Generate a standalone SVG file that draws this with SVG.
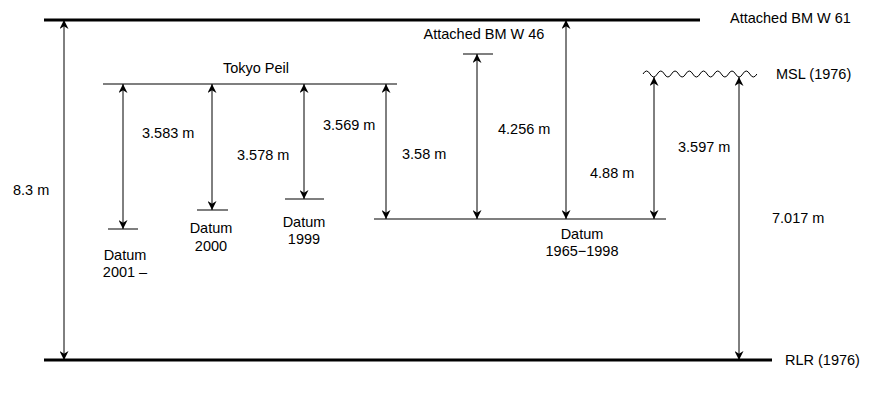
<svg xmlns="http://www.w3.org/2000/svg" width="875" height="400" viewBox="0 0 875 400">
<style>
text{font-family:"Liberation Sans",Arial,sans-serif;font-size:14.5px;fill:#000}
.m{text-anchor:middle}
.thick{stroke:#000;stroke-width:3;fill:none}
.ref{stroke:#555;stroke-width:1.5;fill:none}
.arr{stroke:#000;stroke-width:1;fill:none;marker-start:url(#ah);marker-end:url(#ah)}
</style>
<defs>
<marker id="ah" viewBox="0 0 10 10" refX="10" refY="5" markerWidth="10" markerHeight="9" markerUnits="userSpaceOnUse" orient="auto-start-reverse">
<path d="M0,0 L10,5 L0,10 L3,5 z" fill="#000"/>
</marker>
</defs>
<rect width="875" height="400" fill="#fff"/>
<g id="bm61">
<line class="thick" x1="44" y1="20" x2="700" y2="20"/>
<text x="730" y="23">Attached BM W 61</text>
</g>
<g id="rlr">
<line class="thick" x1="44" y1="360" x2="772" y2="360"/>
<text x="785" y="365">RLR (1976)</text>
</g>
<g id="tokyo-peil">
<line class="ref" x1="103" y1="84" x2="397" y2="84"/>
<text class="m" x="256" y="73">Tokyo Peil</text>
</g>
<g id="bm46">
<line class="ref" x1="463" y1="54" x2="493" y2="54"/>
<text class="m" x="484" y="39">Attached BM W 46</text>
</g>
<g id="msl">
<path d="M643,74 q3.56,-6 7.12,0 t7.12,0 t7.12,0 t7.12,0 t7.12,0 t7.12,0 t7.12,0 t7.12,0 t7.12,0 t7.12,0 t7.12,0 t7.12,0 t7.12,0 t7.12,0 t7.12,0 t7.12,0" stroke="#000" stroke-width="1" fill="none"/>
<text x="776" y="79">MSL (1976)</text>
</g>
<g id="datum2001">
<line class="ref" x1="108" y1="229" x2="138" y2="229"/>
<text class="m" x="125" y="260">Datum</text>
<text class="m" x="125" y="277">2001 –</text>
</g>
<g id="datum2000">
<line class="ref" x1="197" y1="210" x2="228" y2="210"/>
<text class="m" x="211" y="233">Datum</text>
<text class="m" x="211" y="251">2000</text>
</g>
<g id="datum1999">
<line class="ref" x1="285" y1="199" x2="324" y2="199"/>
<text class="m" x="304" y="227">Datum</text>
<text class="m" x="304" y="244">1999</text>
</g>
<g id="datum1965">
<line class="ref" x1="374" y1="219" x2="666" y2="219"/>
<text class="m" x="582" y="239">Datum</text>
<text class="m" x="582" y="256">1965−1998</text>
</g>
<g id="connectors">
<line class="arr" x1="64" y1="20" x2="64" y2="360"/>
<line class="arr" x1="123" y1="84" x2="123" y2="229"/>
<line class="arr" x1="212" y1="84" x2="212" y2="210"/>
<line class="arr" x1="304" y1="84" x2="304" y2="199"/>
<line class="arr" x1="386" y1="84" x2="386" y2="219"/>
<line class="arr" x1="477" y1="54" x2="477" y2="219"/>
<line class="arr" x1="566" y1="20" x2="566" y2="219"/>
<line class="arr" x1="654" y1="77" x2="654" y2="219"/>
<line class="arr" x1="739" y1="77" x2="739" y2="360"/>
<text x="13" y="195">8.3 m</text>
<text x="142" y="138">3.583 m</text>
<text x="237" y="160">3.578 m</text>
<text x="323" y="130">3.569 m</text>
<text x="402" y="159">3.58 m</text>
<text x="498" y="134">4.256 m</text>
<text x="590" y="178">4.88 m</text>
<text x="678" y="152">3.597 m</text>
<text x="772" y="223">7.017 m</text>
</g>
</svg>
